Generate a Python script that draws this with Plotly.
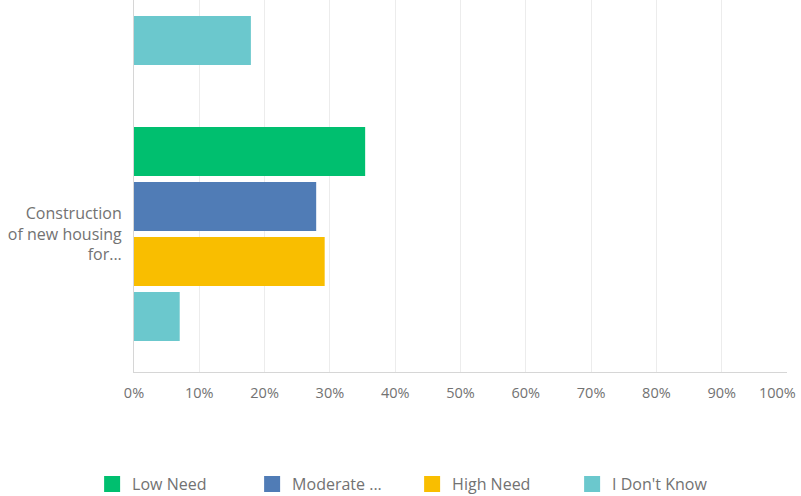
import plotly.graph_objects as go

# Survey rows (the first row sits mostly above the visible window)
categories = ["(previous item)", "Construction of new housing for..."]
category_labels = ["", "Construction<br>of new housing<br>for..."]

series_names = ["Low Need", "Moderate ...", "High Need", "I Don't Know"]
series_colors = ["#00bf6f", "#507cb6", "#f9be00", "#6bc8cd"]

# Percent of respondents per row
low_need = [None, 35.4]
moderate_need = [None, 27.9]
high_need = [None, 29.2]
dont_know = [17.9, 7.0]
series_values = [low_need, moderate_need, high_need, dont_know]

x_ticks = [0, 10, 20, 30, 40, 50, 60, 70, 80, 90, 100]
x_tick_text = [f"{v}%" for v in x_ticks]
last_tick_text = x_tick_text[-1]
# the last label is placed separately so it stays inside the page
x_tick_text[-1] = ""

TEXT = "#727272"
FONT = "Open Sans"

fig = go.Figure()
for name, color, vals in zip(series_names, series_colors, series_values):
    fig.add_trace(go.Bar(
        y=categories, x=vals, name=name, orientation="h",
        marker=dict(color=color, line=dict(width=0)),
        showlegend=False, hoverinfo="x+name",
    ))
    # square swatch for the legend
    fig.add_trace(go.Scatter(
        x=[None], y=[None], mode="markers", name=name,
        marker=dict(symbol="square", size=16, color=color),
        showlegend=True,
    ))

fig.add_annotation(
    x=x_ticks[-1], xref="x", xanchor="right", xshift=11,
    y=0, yref="paper", yanchor="middle", yshift=-20,
    text=last_tick_text, showarrow=False,
    font=dict(size=14.5, color=TEXT, family=FONT),
)

fig.update_layout(
    width=801, height=496,
    margin=dict(l=134, r=14, t=0, b=124, autoexpand=False),
    paper_bgcolor="white", plot_bgcolor="white",
    barmode="group", bargap=0.203, bargroupgap=0.11,
    font=dict(family=FONT, color=TEXT, size=14),
    xaxis=dict(
        range=[0, 100], tickvals=x_ticks, ticktext=x_tick_text,
        automargin=False,
        showgrid=True, gridcolor="#ececec", gridwidth=1,
        showline=True, linecolor="#d6d6d6", linewidth=1,
        zeroline=False, ticks="outside", ticklen=8,
        tickcolor="rgba(0,0,0,0)", tickfont=dict(size=14.5, color=TEXT),
        fixedrange=True,
    ),
    yaxis=dict(
        type="category", categoryorder="array", categoryarray=categories,
        tickvals=categories, ticktext=category_labels,
        range=[1.5, 0.152], automargin=False,
        showgrid=False, showline=True, linecolor="#d6d6d6", linewidth=1,
        zeroline=False, ticks="outside", ticklen=8,
        tickcolor="rgba(0,0,0,0)", tickfont=dict(size=16, color=TEXT),
        fixedrange=True,
    ),
    legend=dict(
        orientation="h", xref="container", yref="container",
        x=0.115, xanchor="left", y=0.024, yanchor="middle",
        entrywidth=115, entrywidthmode="pixels",
        font=dict(size=16, color=TEXT), itemclick=False,
        traceorder="normal",
    ),
    showlegend=True,
)

fig.write_html("out.html")
